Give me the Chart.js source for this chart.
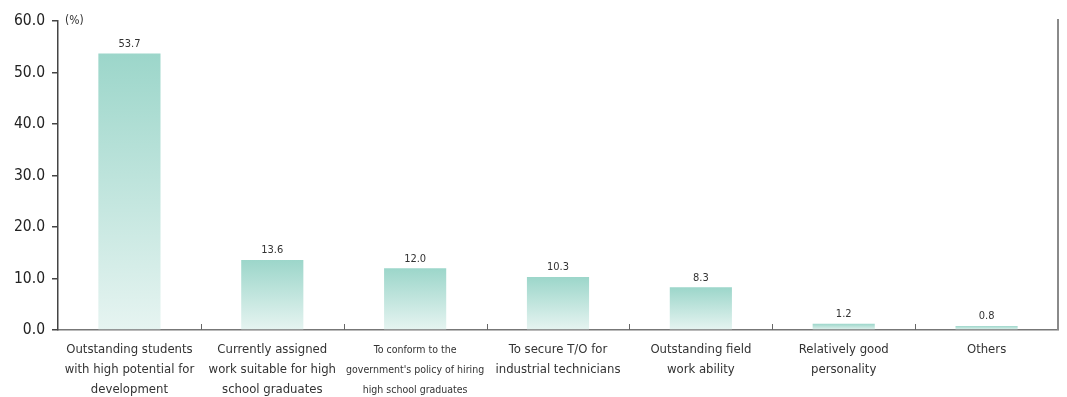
<!DOCTYPE html>
<html>
<head>
<meta charset="utf-8">
<script src="https://cdn.jsdelivr.net/npm/chart.js@4/dist/chart.umd.min.js"></script>
<style>
  html, body { margin: 0; padding: 0; background: #fff; }
  #wrap { width: 1067px; height: 397px; position: relative; }
</style>
</head>
<body>
<div id="wrap"><canvas id="reasonChart" width="1067" height="397"></canvas></div>
<script>
const categories = [
  ["Outstanding students", "with high potential for", "development"],
  ["Currently assigned", "work suitable for high", "school graduates"],
  ["To conform to the", "government's policy of hiring", "high school graduates"],
  ["To secure T/O for", "industrial technicians"],
  ["Outstanding field", "work ability"],
  ["Relatively good", "personality"],
  ["Others"]
];
const values = [53.7, 13.6, 12.0, 10.3, 8.3, 1.2, 0.8];
const yTicks = [0, 10, 20, 30, 40, 50, 60];

const FONT = "'Liberation Sans Narrow', 'DejaVu Sans Condensed', 'Roboto', sans-serif";

// each bar gets its own top-to-bottom gradient
function barGradient(context) {
  const chart = context.chart;
  if (!chart.chartArea || context.raw === undefined) return '#b5e0d7';
  const y = chart.scales.y;
  const top = y.getPixelForValue(context.raw);
  const base = y.getPixelForValue(0);
  const g = chart.ctx.createLinearGradient(0, top, 0, base);
  g.addColorStop(0, '#9cd6ca');
  g.addColorStop(1, '#e6f4f1');
  return g;
}

// extra drawing: value labels, (%) unit, tick marks, right border
const decor = {
  id: 'decor',
  afterDraw(chart) {
    const c = chart.ctx;
    const area = chart.chartArea;
    const x = chart.scales.x;
    c.save();
    // value labels
    c.fillStyle = '#333';
    c.font = "11px " + FONT;
    c.textAlign = 'center';
    c.textBaseline = 'bottom';
    chart.getDatasetMeta(0).data.forEach((bar, i) => {
      c.fillText(values[i].toFixed(1), bar.x, bar.y - 4);
    });
    // unit
    c.font = "12px " + FONT;
    c.textAlign = 'left';
    c.textBaseline = 'middle';
    c.fillText('(%)', area.left + 7, area.top);
    // category separators (small upward ticks)
    c.strokeStyle = '#666';
    c.lineWidth = 1;
    for (let i = 1; i < categories.length; i++) {
      const px = Math.round((x.getPixelForValue(i - 1) + x.getPixelForValue(i)) / 2) + 0.5;
      c.beginPath();
      c.moveTo(px, area.bottom);
      c.lineTo(px, area.bottom - 6);
      c.stroke();
    }
    // right border
    c.strokeStyle = '#8a8a8a';
    c.lineWidth = 2;
    c.beginPath();
    c.moveTo(area.right, area.top - 2);
    c.lineTo(area.right, area.bottom);
    c.stroke();
    c.restore();
  }
};

const ctx = document.getElementById('reasonChart').getContext('2d');
new Chart(ctx, {
  type: 'bar',
  data: {
    labels: categories,
    datasets: [{
      data: values,
      backgroundColor: barGradient,
      borderWidth: 0,
      barPercentage: 0.87,
      categoryPercentage: 0.5
    }]
  },
  options: {
    responsive: false,
    animation: false,
    layout: { padding: { top: 21, right: 9, left: 0, bottom: 0 } },
    plugins: { legend: { display: false }, tooltip: { enabled: false } },
    scales: {
      x: {
        grid: { display: false },
        border: { color: '#777', width: 1.5 },
        afterFit(scale) { scale.height = 67; },
        ticks: {
          color: '#333',
          padding: 2,
          maxRotation: 0,
          autoSkip: false,
          font: (c) => c.index === 2
            ? { family: FONT, size: 10.5, lineHeight: 1.9 }
            : { family: FONT, size: 13, lineHeight: 1.54 }
        }
      },
      y: {
        min: 0,
        max: 60,
        afterBuildTicks(scale) { scale.ticks = yTicks.map(v => ({ value: v })); },
        afterFit(scale) { scale.width = 58; },
        grid: { drawOnChartArea: false, tickLength: 6, color: '#444', lineWidth: 1.5 },
        border: { color: '#444', width: 1.5 },
        ticks: {
          color: '#222',
          padding: 7,
          font: { family: FONT, size: 15.5 },
          callback: (v) => Number(v).toFixed(1)
        }
      }
    }
  },
  plugins: [decor]
});
</script>
</body>
</html>
